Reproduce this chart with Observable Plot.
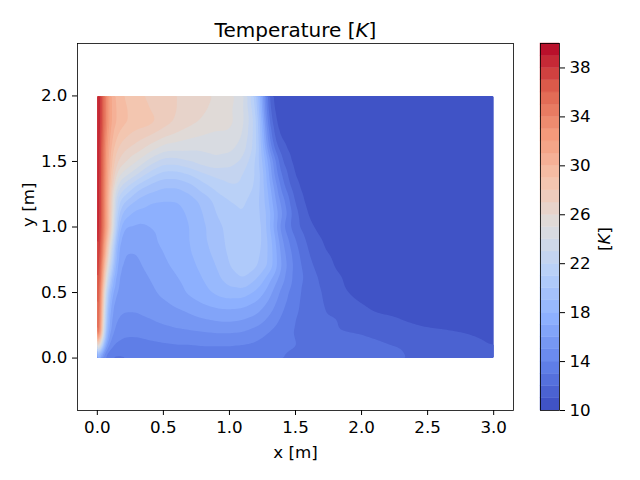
<!DOCTYPE html>
<html><head><meta charset="utf-8">
<script src="https://cdn.jsdelivr.net/npm/d3@7"></script>
<script src="https://cdn.jsdelivr.net/npm/@observablehq/plot@0.6"></script>
<style>
body{margin:0;background:#fff;}
#wrap{width:640px;height:480px;display:flex;}
#wrap svg{flex:none;}
</style></head><body><div id="wrap"></div>
<script>
// grid node positions (m)
const xNodes = [0, 0.02, 0.05, 0.1, 0.15, 0.2, 0.3, 0.4, 0.5, 0.6, 0.7, 0.8, 0.9, 1.0, 1.1, 1.2, 1.25, 1.3, 1.35, 1.4, 1.5, 1.6, 1.7, 1.8, 2.0, 2.2, 2.4, 2.6, 2.8, 3.0];
const yNodes = [2.0, 1.9, 1.8, 1.7, 1.6, 1.5, 1.4, 1.3, 1.2, 1.1, 1.0, 0.9, 0.8, 0.7, 0.6, 0.5, 0.4, 0.3, 0.2, 0.1, 0.05, 0];
// temperature (K) read row by row, top (y=2.0) to bottom (y=0)
const t200 = [40,39,35,31,29.5,29,28.2,27.8,27.3,27, 26.8,26.5,25.8,25.3,24.5,20.5,16.5,11.8,10.4,10.4, 10.4,10.4,10.4,10.4,10.4,10.4,10.4,10.4,10.4,10.4];
const t190 = [40,39,35,31,29.8,29.2,28.5,28,27.5,27, 26.6,26.2,25.6,25.2,24.3,21,16.8,12.3,10.6,10.4, 10.4,10.4,10.4,10.4,10.4,10.4,10.4,10.4,10.4,10.4];
const t180 = [40,39,35,31,29.8,29.2,28.6,28.3,27.5,26.8, 26.3,25.8,25.4,25.3,24.3,21.5,17.5,13,11,10.4, 10.4,10.4,10.4,10.4,10.4,10.4,10.4,10.4,10.4,10.4];
const t170 = [40,39,34.5,30.5,29,28.3,27.5,27,26.3,25.8, 25.3,25,24.8,24.8,24,21.5,18,14,11.5,10.8, 10.4,10.4,10.4,10.4,10.4,10.4,10.4,10.4,10.4,10.4];
const t160 = [40,39,34,30,28,27.3,26.5,25.5,24.5,24.3, 24.2,24.2,24.3,24.3,23.5,21.5,18.5,15,12.5,11.3, 10.4,10.4,10.4,10.4,10.4,10.4,10.4,10.4,10.4,10.4];
const t150 = [40,39,34,29.5,27,26.3,25,23.5,22.5,22.5, 23,23.5,23.8,23.5,22.8,21,19,16.5,14,12, 10.6,10.4,10.4,10.4,10.4,10.4,10.4,10.4,10.4,10.4];
const t140 = [40,39,34,29,25.5,24.5,23,21.5,20.5,20.5, 21,21.8,22.3,22.5,22,21,19.5,17,14.5,12.8, 10.9,10.4,10.4,10.4,10.4,10.4,10.4,10.4,10.4,10.4];
const t130 = [40,38.8,34,28.5,23.5,22.3,20.5,19.5,19,19, 19.5,20.5,21.3,21.8,21.8,20.8,19.5,17.5,15.5,13.5, 11.3,10.4,10.4,10.4,10.4,10.4,10.4,10.4,10.4,10.4];
const t120 = [40,38.8,34,28,21.5,20.3,18.8,18.2,18,18, 18.5,19.3,20.3,21,21.2,20.5,19.5,18,16,14.5, 11.8,10.6,10.4,10.4,10.4,10.4,10.4,10.4,10.4,10.4];
const t110 = [40,38.8,34,28,20.5,18.5,17.6,17.4,17.5,17.6, 18.2,19,20,20.7,21,20.5,19.7,18.5,16.5,15, 12.3,10.9,10.4,10.4,10.4,10.4,10.4,10.4,10.4,10.4];
const t100 = [40,38.6,34,28,19.5,17,16.8,17,17.2,17.5, 18,18.8,19.6,20.4,20.8,20.5,20,18.3,16.3,14.3, 12.3,11.3,10.6,10.4,10.4,10.4,10.4,10.4,10.4,10.4];
const t090 = [40,38.5,33,26,18,16.3,16.3,16.8,17.2,17.5, 18,18.8,19.5,20.3,20.7,20.5,20,18.7,17,15, 13,11.7,11,10.5,10.4,10.4,10.4,10.4,10.4,10.4];
const t080 = [40,38.3,32,24,17,16,16,16.5,17,17.4, 17.9,18.6,19.3,20.2,20.6,20.4,19.8,18.8,17.3,15.5, 13.4,12,11.2,10.8,10.4,10.4,10.4,10.4,10.4,10.4];
const t070 = [40,38,30,22,16.5,15.8,15.8,16.3,16.8,17.2, 17.7,18.3,19,20,20.5,20.2,19.5,18.8,17.3,15.8, 13.6,12.3,11.5,10.95,10.4,10.4,10.4,10.4,10.4,10.4];
const t060 = [40,37.8,28,19.5,16,15.6,15.6,16,16.5,16.9, 17.4,18,18.7,19.5,20,19,18.3,17.3,16.3,15.3, 13.6,12.6,11.8,11.2,10.5,10.4,10.4,10.4,10.4,10.4];
const t050 = [40,37.5,25,17.5,15.8,15.5,15.5,15.8,16.2,16.6, 17.2,17.7,18.2,18.6,18.6,17.8,17.2,16.4,15.5,14.6, 13.3,12.6,12,11.3,10.7,10.4,10.4,10.4,10.4,10.4];
const t040 = [40,37.3,23.5,16.5,15.3,15.2,15.2,15.5,15.8,16.1, 16.5,16.9,17.2,17.3,17.2,16.7,16.2,15.6,14.9,14.2, 13.2,12.5,12.1,11.6,11.05,10.6,10.4,10.4,10.4,10.4];
const t030 = [40,37,22,16,15,14.8,14.8,15,15.3,15.5, 15.7,16,16.2,16.3,16.1,15.7,15.3,14.8,14.3,13.8, 13,12.5,12.2,12.05,11.4,11.15,10.8,10.5,10.4,10.4];
const t020 = [40,36.5,20,15.5,14.5,14.2,14.2,14.4,14.6,14.8, 14.9,15,15.1,15.1,15,14.6,14.3,14,13.7,13.4, 12.9,12.5,12.3,12.1,11.95,11.6,11.3,11.15,10.95,10.7];
const t010 = [33,26,17,14.3,13.8,13.7,13.7,13.8,13.9,14, 14,14.1,14.1,14.1,14,13.8,13.6,13.4,13.3,13.2, 13.05,12.7,12.5,12.4,12.2,12.05,11.9,11.6,11.3,10.95];
const t005 = [24,20,15,13.5,13.2,13.1,13.2,13.3,13.4,13.5, 13.5,13.6,13.6,13.6,13.5,13.4,13.3,13.2,13.1,13.05, 12.9,12.7,12.6,12.5,12.3,12.1,11.9,11.7,11.5,11.3];
const t000 = [18,16,13.5,12.8,12.8,12.9,13.1,13.2,13.3,13.3, 13.4,13.4,13.5,13.5,13.4,13.3,13.2,13.1,13.05,13.0, 12.9,12.7,12.6,12.5,12.4,12.2,11.9,11.7,11.5,11.3];
const tempRows = [t200,t190,t180,t170,t160,t150,t140,t130,t120,t110,t100,t090,t080,t070,t060,t050,t040,t030,t020,t010,t005,t000];

const levels = [10,11,12,13,14,15,16,17,18,19,20,21,22,23,24,25,26,27,28,29,30,31,32,33,34,35,36,37,38,39,40];
const xTicks = [0, 0.5, 1.0, 1.5, 2.0, 2.5, 3.0];
const yTicks = [0, 0.5, 1.0, 1.5, 2.0];
const cbTicks = [10, 14, 18, 22, 26, 30, 34, 38];

const coolwarm = d3.piecewise(d3.interpolateRgb, ["#3b4cc0","#6282ea","#8db0fe","#b8d0f9","#dddddd","#f5c4ad","#f49a7b","#de604d","#b40426"]);
const colorOpts = {type: "linear", domain: [9.5, 39.5], interpolate: coolwarm};

const grid = [];
yNodes.forEach((y, i) => xNodes.forEach((x, j) => grid.push({x, y, t: tempRows[i][j]})));
const bands = levels.slice(0, -1).map((lo, i) => ({lo, hi: levels[i + 1]}));

const font = "DejaVu Sans";
const FS = 16.7;
const main = Plot.plot({
  width: 530, height: 480,
  marginLeft: 77, marginRight: 17, marginTop: 43, marginBottom: 70,
  x: {domain: [-0.15, 3.15]},
  y: {domain: [-0.4, 2.4]},
  color: colorOpts,
  style: {fontFamily: font, fontSize: FS + "px", background: "transparent", color: "black"},
  marks: [
    Plot.contour(grid, {x: "x", y: "y", fill: "t", thresholds: levels.slice(0, -1), interpolate: "barycentric", blur: 1,
      x1: 0, x2: 3, y1: 0, y2: 2, stroke: "none"}),
    Plot.frame({stroke: "black", strokeWidth: 0.8}),
    Plot.axisX({ticks: xTicks, tickFormat: d3.format(".1f"), tickSize: 5, tickPadding: 6, label: null, fontSize: FS}),
    Plot.axisY({ticks: yTicks, tickFormat: d3.format(".1f"), tickSize: 5, tickPadding: 5, label: null, fontSize: FS}),
    Plot.text(["Temperature [K]"], {frameAnchor: "top", lineAnchor: "middle", dy: -12.7, fontSize: 20}),
    Plot.text(["x [m]"], {frameAnchor: "bottom", lineAnchor: "middle", dy: 42.5, fontSize: FS}),
    Plot.text(["y [m]"], {frameAnchor: "left", lineAnchor: "middle", dx: -49, rotate: -90, fontSize: FS})
  ]
});

const cbar = Plot.plot({
  width: 110, height: 480,
  marginLeft: 10, marginRight: 81, marginTop: 43, marginBottom: 70,
  x: {domain: [0, 1], axis: null},
  y: {domain: [10, 40]},
  color: colorOpts,
  style: {fontFamily: font, fontSize: FS + "px", background: "transparent", color: "black"},
  marks: [
    Plot.rect(bands, {x1: 0, x2: 1, y1: "lo", y2: "hi", fill: "lo", stroke: "lo", strokeWidth: 0.4}),
    Plot.frame({stroke: "black", strokeWidth: 0.8}),
    Plot.axisY({anchor: "right", ticks: cbTicks, tickSize: 5, tickPadding: 5, label: null, fontSize: FS}),
    Plot.text(["[K]"], {frameAnchor: "right", lineAnchor: "middle", dx: 45, rotate: -90, fontSize: FS})
  ]
});

const wrap = document.getElementById("wrap");
wrap.append(main, cbar);

// italic K as in the mathtext of the original
const NS = "http://www.w3.org/2000/svg";
function italicK(svg, full) {
  svg.querySelectorAll("text").forEach(t => {
    if (t.textContent === full) {
      const idx = full.indexOf("K");
      while (t.firstChild) t.removeChild(t.firstChild);
      t.appendChild(document.createTextNode(full.slice(0, idx)));
      const ts = document.createElementNS(NS, "tspan");
      ts.setAttribute("font-style", "italic");
      ts.textContent = "K";
      t.appendChild(ts);
      t.appendChild(document.createTextNode(full.slice(idx + 1)));
    }
  });
}
italicK(main, "Temperature [K]");
italicK(cbar, "[K]");
</script></body></html>
